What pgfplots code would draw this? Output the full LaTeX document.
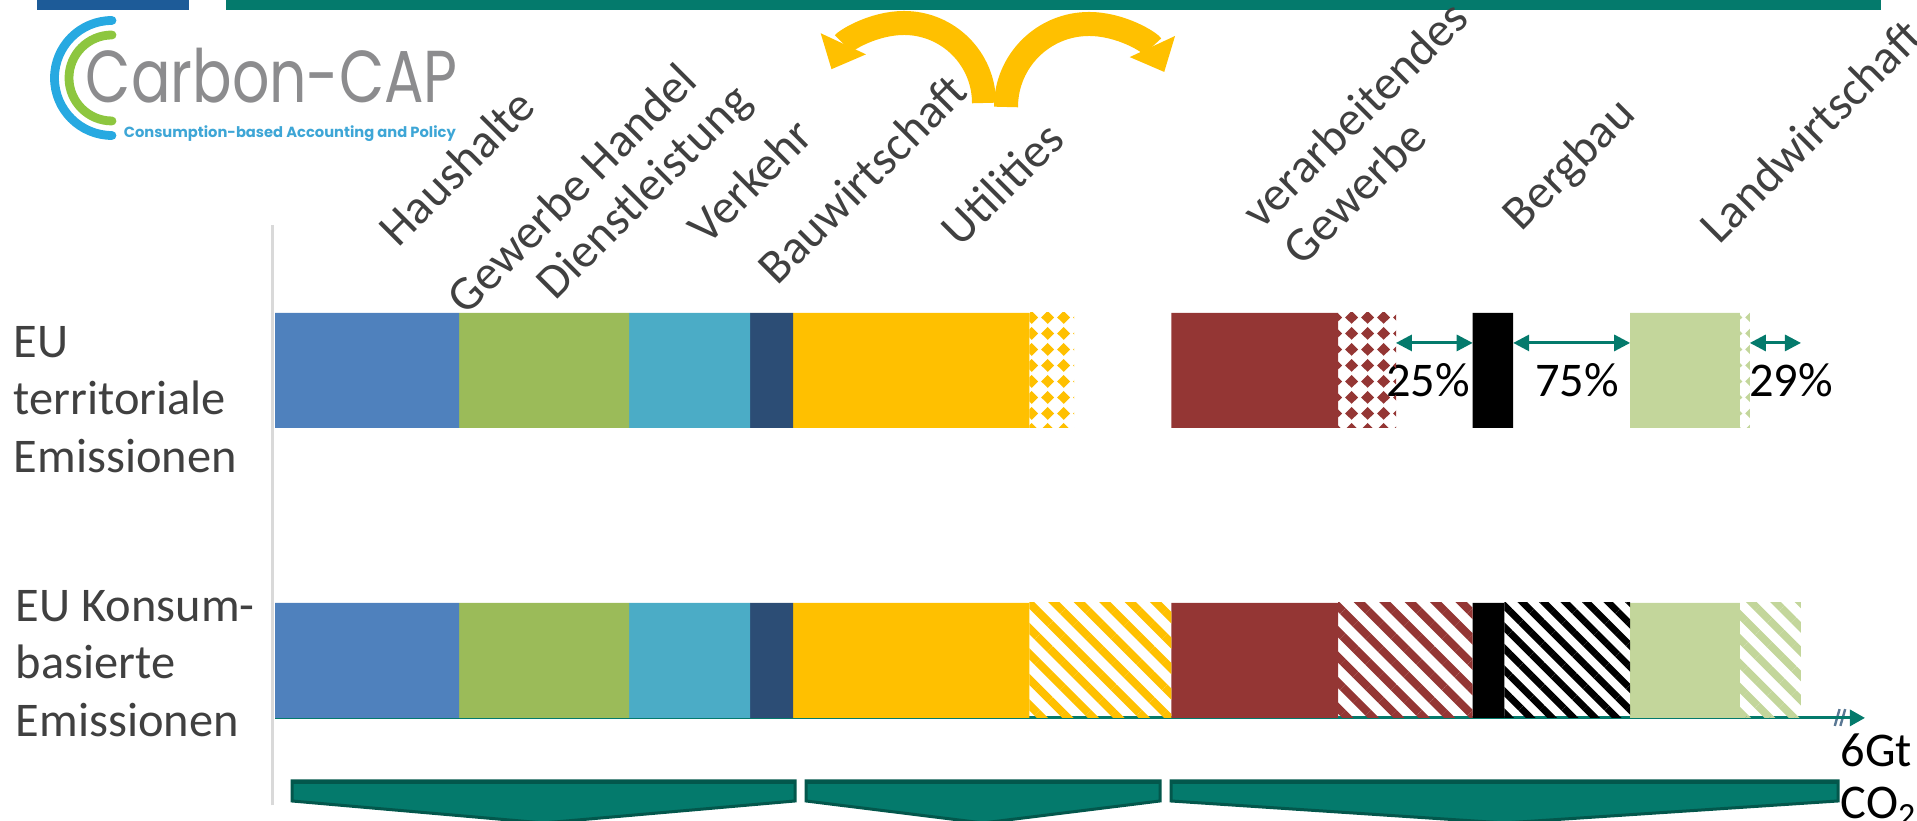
\documentclass[border=0pt]{standalone}
\usepackage{fontspec}
\setmainfont{Carlito}
\newfontfamily\logofont{Poppins}
\usepackage{pgfplots}
\pgfplotsset{compat=1.18}
\usetikzlibrary{arrows.meta,patterns,patterns.meta}

\definecolor{hh}{HTML}{4F81BD}
\definecolor{gw}{HTML}{9BBB59}
\definecolor{vk}{HTML}{4BACC6}
\definecolor{bw}{HTML}{2C4D75}
\definecolor{ut}{HTML}{FFC000}
\definecolor{vg}{HTML}{943634}
\definecolor{bb}{HTML}{000000}
\definecolor{lw}{HTML}{C3D69B}
\definecolor{tealc}{HTML}{047A6C}
\definecolor{teald}{HTML}{03574C}
\definecolor{topblue}{HTML}{1D5B98}
\definecolor{txt}{HTML}{404040}
\definecolor{logoblue}{HTML}{27A9E1}
\definecolor{logogreen}{HTML}{8DC63F}
\definecolor{logogray}{HTML}{8C8C8E}
\definecolor{logotext}{HTML}{3EA6D6}
\definecolor{slate}{HTML}{5A7894}
\definecolor{axgray}{HTML}{D9D9D9}

\tikzdeclarepattern{name=diam, type=uncolored,
  bounding box={(0pt,0pt) and (4pt,4pt)}, tile size={(4pt,4pt)},
  code={\fill (2pt,0.3pt) -- (3.7pt,2pt) -- (2pt,3.7pt) -- (0.3pt,2pt) -- cycle;}}

\newcommand\lab{\fontsize{12.1pt}{14.25pt}\selectfont}

\begin{document}
\begin{tikzpicture}
\begin{scope}[x=0.25pt,y=0.25pt]
\useasboundingbox (0,0) rectangle (1917,821);
% top bars
\fill[topblue] (37,811) rectangle (189,821);
\fill[tealc] (226,811) rectangle (1881,821);
% logo
\draw[logoblue, line width=2.2pt, line cap=round] (112,800.5) arc[start angle=90,end angle=270,radius=57.5];
\draw[logogreen, line width=2.2pt, line cap=round] (112,786) arc[start angle=90,end angle=270,radius=43];
\node[anchor=base west, inner sep=0pt, text=logogray] at (85,718) {\resizebox{93pt}{13.6pt}{\logofont Carbon-CAP}};
\node[anchor=base west, inner sep=0pt, text=logotext] at (123,683) {\resizebox{83pt}{!}{\logofont\bfseries Consumption-based Accounting and Policy}};
% curved arrows
\draw[ut, line width=6pt, -{Triangle[width=12.5pt,length=7pt,line width=0pt]}] (984,718) arc[start angle=0,end angle=155,radius=80];
\draw[ut, line width=6pt, -{Triangle[width=12.5pt,length=7pt,line width=0pt]}] (1006,714) arc[start angle=180,end angle=25,radius=83];
% category labels
\begin{scope}[every node/.style={rotate=45, anchor=base west, inner sep=0pt, text=txt, font=\lab}]
\node at (398,572) {Haushalte};
\node at (466,504) {Gewerbe Handel};
\node at (555,519) {Dienstleistung};
\node at (707,574) {Verkehr};
\node at (777,534) {Bauwirtschaft};
\node at (960,572) {Utilities};
\node at (1261,590) {verarbeitendes};
\node at (1302,553) {Gewerbe};
\node at (1521,588) {Bergbau};
\node at (1719,575) {Landwirtschaft};
\end{scope}
% row labels
\begin{scope}[every node/.style={anchor=base west, inner sep=0pt, text=txt, font=\lab}]
\node at (13,463) {EU};
\node at (13,406) {territoriale};
\node at (13,348) {Emissionen};
\node at (15,199) {EU Konsum-};
\node at (15,142) {basierte};
\node at (15,84) {Emissionen};
\end{scope}
% bottom chevrons
\begin{scope}[fill=tealc, draw=teald, line width=0.75pt, line join=miter]
\filldraw (292,40) -- (795,40) -- (795,20) -- (543.5,-2) -- (292,20) -- cycle;
\filldraw (806,40) -- (1160,40) -- (1160,20) -- (983,-2) -- (806,20) -- cycle;
\filldraw (1171,40) -- (1838,40) -- (1838,20) -- (1504.5,-2) -- (1171,20) -- cycle;
\end{scope}
\draw[teald, line width=1pt] (293,38.5) -- (794,38.5);
\draw[teald, line width=1pt] (807,38.5) -- (1159,38.5);
\draw[teald, line width=1pt] (1172,38.5) -- (1837,38.5);
% unit label
\node[anchor=base west, inner sep=0pt, font=\lab] at (1840,54) {6Gt};
\node[anchor=base west, inner sep=0pt, font=\lab] at (1840,2) {CO\textsubscript{2}};
\end{scope}

\begin{axis}[at={(68.75pt,3.875pt)}, anchor=south west, scale only axis,
  width=391.75pt, height=145pt, xmin=0, xmax=6, ymin=-0.5, ymax=1.5,
  hide axis, xbar stacked, bar width=28.75pt, clip=false]
\draw[axgray, line width=0.75pt] (axis cs:-0.011,-0.5) -- (axis cs:-0.011,1.5);
% y=1: territorial, y=0: consumption-based
\addplot[draw=none, fill=hh] coordinates {(0.705,1) (0.705,0)};
\addplot[draw=none, fill=gw] coordinates {(0.651,1) (0.651,0)};
\addplot[draw=none, fill=vk] coordinates {(0.463,1) (0.463,0)};
\addplot[draw=none, fill=bw] coordinates {(0.165,1) (0.165,0)};
\addplot[draw=none, fill=ut] coordinates {(0.904,1) (0.904,0)};
\addplot[draw=none, pattern=diam, pattern color=ut] coordinates {(0.172,1) (0,0)};
\addplot[draw=none, fill=none] coordinates {(0.372,1) (0,0)};
\addplot[draw=none, pattern={Lines[angle=-45,distance=4.5pt,line width=2pt]}, pattern color=ut] coordinates {(0,1) (0.544,0)};
\addplot[draw=none, fill=vg] coordinates {(0.639,1) (0.639,0)};
\addplot[draw=none, pattern=diam, pattern color=vg] coordinates {(0.222,1) (0,0)};
\addplot[draw=none, fill=none] coordinates {(0.293,1) (0,0)};
\addplot[draw=none, pattern={Lines[angle=-45,distance=4.5pt,line width=2pt]}, pattern color=vg] coordinates {(0,1) (0.515,0)};
\addplot[draw=none, fill=bb] coordinates {(0.155,1) (0.121,0)};
\addplot[draw=none, fill=none] coordinates {(0.448,1) (0,0)};
\addplot[draw=none, pattern={Lines[angle=-45,distance=3.8pt,line width=1.7pt]}, pattern color=bb] coordinates {(0,1) (0.482,0)};
\addplot[draw=none, fill=lw] coordinates {(0.420,1) (0.420,0)};
\addplot[draw=none, pattern=diam, pattern color=lw] coordinates {(0.038,1) (0,0)};
\addplot[draw=none, pattern={Lines[angle=-45,distance=4.3pt,line width=1.9pt]}, pattern color=lw] coordinates {(0,1) (0.234,0)};
% horizontal axis with arrow and break mark
\draw[tealc, line width=0.75pt, -{Triangle[width=4pt,length=3.75pt]}] (axis cs:0,-0.198) -- (axis cs:6.088,-0.198);
\draw[slate, line width=0.6pt] ([xshift=-1.8pt,yshift=-2pt]axis cs:6,-0.198) -- ([xshift=-0.6pt,yshift=2.2pt]axis cs:6,-0.198);
\draw[slate, line width=0.6pt] ([xshift=-0.4pt,yshift=-2pt]axis cs:6,-0.198) -- ([xshift=0.8pt,yshift=2.2pt]axis cs:6,-0.198);
% share arrows
\draw[tealc, line width=0.75pt, {Triangle[width=4pt,length=4pt]}-{Triangle[width=4pt,length=4pt]}] (axis cs:4.292,1.095) -- (axis cs:4.586,1.095);
\draw[tealc, line width=0.75pt, {Triangle[width=4pt,length=4pt]}-{Triangle[width=4pt,length=4pt]}] (axis cs:4.741,1.095) -- (axis cs:5.189,1.095);
\draw[tealc, line width=0.75pt, {Triangle[width=4pt,length=4pt]}-{Triangle[width=4pt,length=4pt]}] (axis cs:5.647,1.095) -- (axis cs:5.843,1.095);
\node[anchor=base, inner sep=0pt, font=\lab] at (axis cs:4.415,0.909) {25\%};
\node[anchor=base, inner sep=0pt, font=\lab] at (axis cs:4.985,0.909) {75\%};
\node[anchor=base, inner sep=0pt, font=\lab] at (axis cs:5.805,0.909) {29\%};
\end{axis}
\end{tikzpicture}
\end{document}
